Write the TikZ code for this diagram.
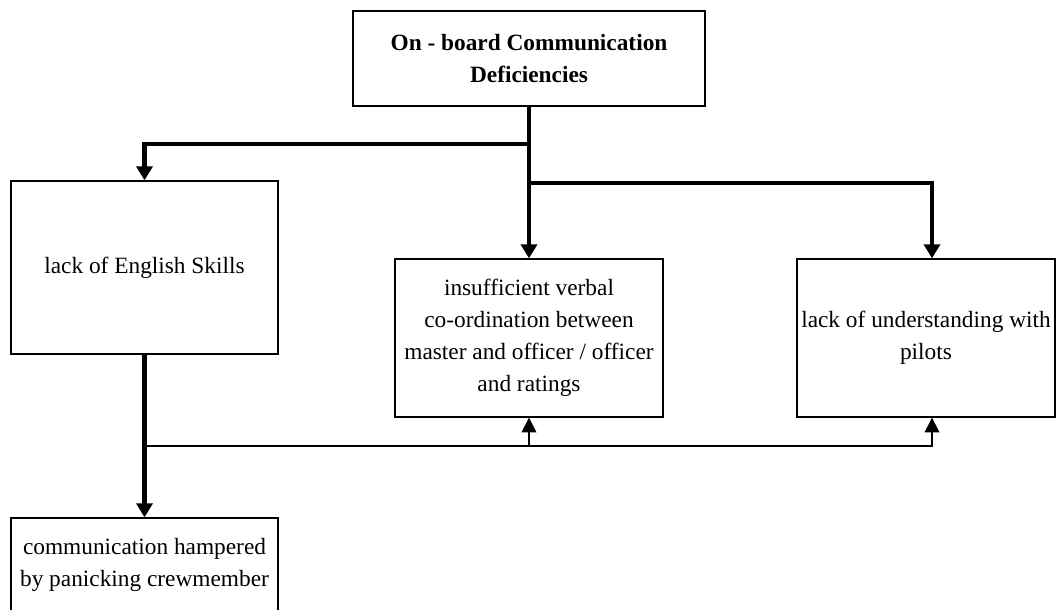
\documentclass[tikz,border=0pt]{standalone}
\usepackage{fontspec}
\setmainfont{Liberation Serif}
\usetikzlibrary{arrows.meta}

\begin{document}
\begin{tikzpicture}[x=0.75pt, y=-0.75pt,
    box/.style={draw, line width=1pt, align=center, inner sep=2pt,
        font=\fontsize{17.5}{24}\selectfont},
    mainlink/.style={line width=3.6pt, -{Triangle[width=12pt,length=10.5pt]}},
    backlink/.style={line width=1pt, -{Triangle[width=11pt,length=11pt]}}]

    \useasboundingbox (0,0) rectangle (1056,610);

    % Boxes
    \node[box, minimum width=352*0.75pt, minimum height=95*0.75pt, font=\fontsize{17.5}{24}\selectfont\bfseries]
        (deficiencies) at (529,58.5) {On - board Communication\\Deficiencies};
    \node[box, minimum width=267*0.75pt, minimum height=173*0.75pt]
        (english) at (144.5,267.5) {lack of English Skills};
    \node[box, minimum width=268*0.75pt, minimum height=158*0.75pt]
        (verbal) at (529,338) {insufficient verbal\\co-ordination between\\master and officer / officer\\and ratings};
    \node[box, minimum width=258*0.75pt, minimum height=158*0.75pt]
        (pilots) at (926,338) {lack of understanding with\\pilots};
    \node[box, minimum width=267*0.75pt, minimum height=94*0.75pt]
        (panic) at (144.5,565) {communication hampered\\by panicking crewmember};

    % Branch points
    \coordinate (leftturn) at (144.5,144);
    \coordinate (rightturn) at (932,183);
    \coordinate (feedback) at (144.5,446);

    % Main links
    \draw[mainlink] (deficiencies.south) |- (leftturn) -- (english.north);
    \draw[mainlink] (deficiencies.south) -- (verbal.north);
    \draw[mainlink] (deficiencies.south |- rightturn) -- (rightturn) -- (rightturn |- pilots.north);
    \draw[mainlink] (english.south) -- (panic.north);

    % Feedback links
    \draw[backlink] (feedback) -| (verbal.south);
    \draw[backlink] (feedback) -| (rightturn |- pilots.south);

\end{tikzpicture}
\end{document}
